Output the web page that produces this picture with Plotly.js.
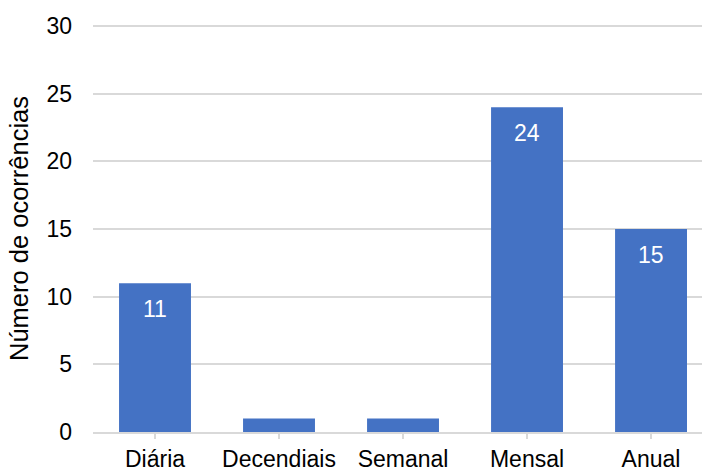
<!DOCTYPE html>
<html><head><meta charset="utf-8">
<script src="https://cdn.plot.ly/plotly-3.0.1.min.js"></script>
<style>html,body{margin:0;padding:0;overflow:hidden;background:#fff}</style>
</head><body><div id="chart" style="width:702px;height:470px"></div>
<script>
const categories = ["Diária", "Decendiais", "Semanal", "Mensal", "Anual"];
const values = [11, 1, 1, 24, 15];
const labels = ["11", "", "", "24", "15"];
const yTicks = [0, 5, 10, 15, 20, 25, 30];

const FONT = 'Liberation Sans, Arial, sans-serif';
const trace = {
  type: 'bar', x: categories, y: values,
  marker: {color: '#4472c4'}, width: 0.58, hoverinfo: 'none'
};
const annotations = categories.map((c, i) => ({
  x: c, y: values[i], xref: 'x', yref: 'y', text: labels[i], showarrow: false,
  yanchor: 'middle', yshift: -26, font: {family: FONT, size: 23, color: '#ffffff'}
})).filter(a => a.text !== '');
const layout = {
  width: 702, height: 470,
  margin: {l: 93, r: 0, t: 25, b: 38},
  paper_bgcolor: '#fff', plot_bgcolor: '#fff',
  font: {family: FONT, size: 23, color: '#000'},
  showlegend: false, annotations: annotations,
  xaxis: {type: 'category', range: [-0.5, 4.411], ticks: 'outside', ticklen: 5, tickcolor: '#d9d9d9', tickwidth: 2,
    showgrid: false, showline: true, linecolor: '#d9d9d9', linewidth: 2, tickfont: {size: 23, color: '#000'}, fixedrange: true},
  yaxis: {range: [0, 30.08], tickvals: yTicks, showgrid: true, gridcolor: '#d9d9d9', gridwidth: 2,
    zeroline: false, showline: false, ticks: '', ticklabelstandoff: 20, tickfont: {size: 23, color: '#000'},
    title: {text: 'Número de ocorrências', font: {size: 25.5, color: '#000'}, standoff: 10}, fixedrange: true}
};
Plotly.newPlot('chart', [trace], layout, {displayModeBar: false, staticPlot: true});
</script></body></html>
